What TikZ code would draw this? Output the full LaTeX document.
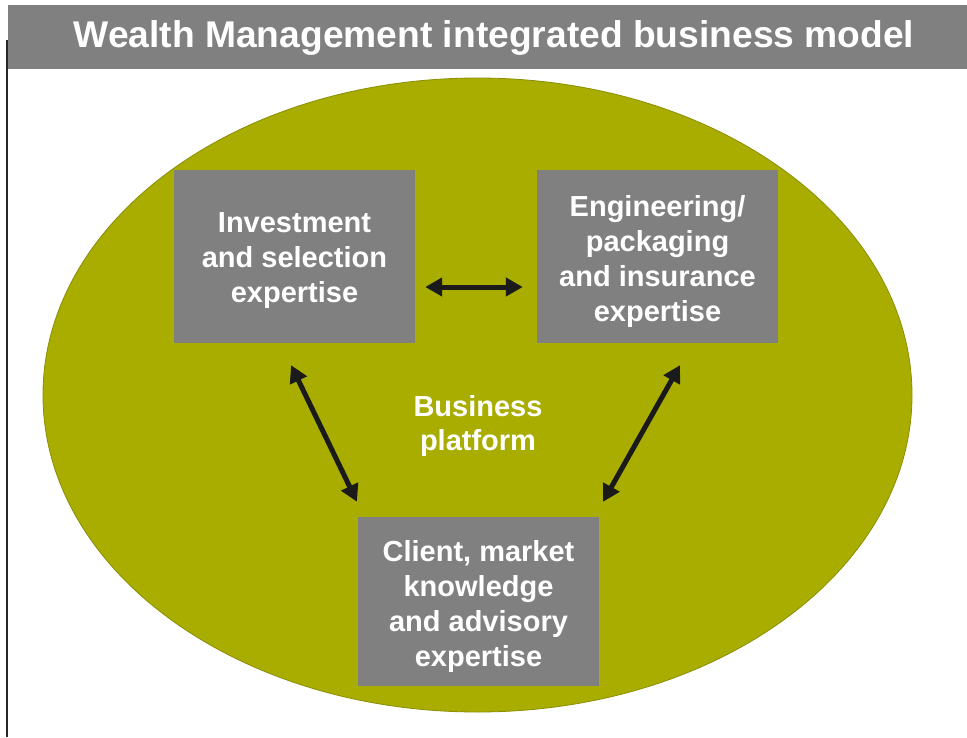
\documentclass[tikz,border=0pt]{standalone}
\usepackage{fontspec}
\setmainfont{Liberation Sans}
\usetikzlibrary{arrows.meta}
\definecolor{barGray}{HTML}{808080}
\definecolor{boxGray}{HTML}{808080}
\definecolor{platOlive}{HTML}{A8AD00}
\definecolor{platEdge}{HTML}{8A8E00}
\definecolor{arrowInk}{HTML}{1A1A1A}
\begin{document}
\begin{tikzpicture}[x=1pt,y=-1pt,
  blockbox/.style={fill=boxGray, draw=none, minimum width=241pt, minimum height=173pt,
    inner sep=0pt},
  blocktext/.style={text=white, align=center, yshift=-4.5pt,
    font=\bfseries\fontsize{29}{35}\selectfont},
  linkarrow/.style={draw=arrowInk, line width=5pt,
    {Triangle[length=17pt,width=18pt]}-{Triangle[length=17pt,width=18pt]}}
]
\useasboundingbox (0,0) rectangle (967,737);
\fill[white] (0,0) rectangle (967,737);

% title bar
\fill[barGray] (8,5) rectangle (967,69);
\node[text=white, font=\bfseries\fontsize{37.2}{40}\selectfont] (title) at (494,38)
  {Wealth Management integrated business model};

% left rule
\draw[line width=2pt, black!85] (7,40) -- (7,737);

% business platform
\draw[fill=platOlive, draw=platEdge, line width=0.8pt] (477.5,395) ellipse [x radius=434.5, y radius=317];
\node[text=white, align=center, font=\bfseries\fontsize{29}{34}\selectfont] (plat) at (478,426)
  {Business\\platform};

% expertise blocks
\node[blockbox, label={[blocktext]center:Investment\\and selection\\expertise}] (inv) at (294.5,256.5) {};
\node[blockbox, label={[blocktext]center:Engineering/\\packaging\\and insurance\\expertise}] (eng) at (657.5,256.5) {};
\node[blockbox, minimum height=169pt, label={[blocktext]center:Client, market\\knowledge\\and advisory\\expertise}] (cli) at (478.5,601.5) {};

% links
\draw[linkarrow, shorten <=10pt, shorten >=14pt] ([yshift=-30.5]inv.east) -- ([yshift=-30.5]eng.west);
\draw[linkarrow, shorten <=24.4pt, shorten >=16.7pt] ([xshift=-14]inv.south) -- ([xshift=-114.3]cli.north);
\draw[linkarrow, shorten <=25.2pt, shorten >=17.2pt] ([xshift=34.9]eng.south) -- ([xshift=116.1]cli.north);
\end{tikzpicture}
\end{document}
